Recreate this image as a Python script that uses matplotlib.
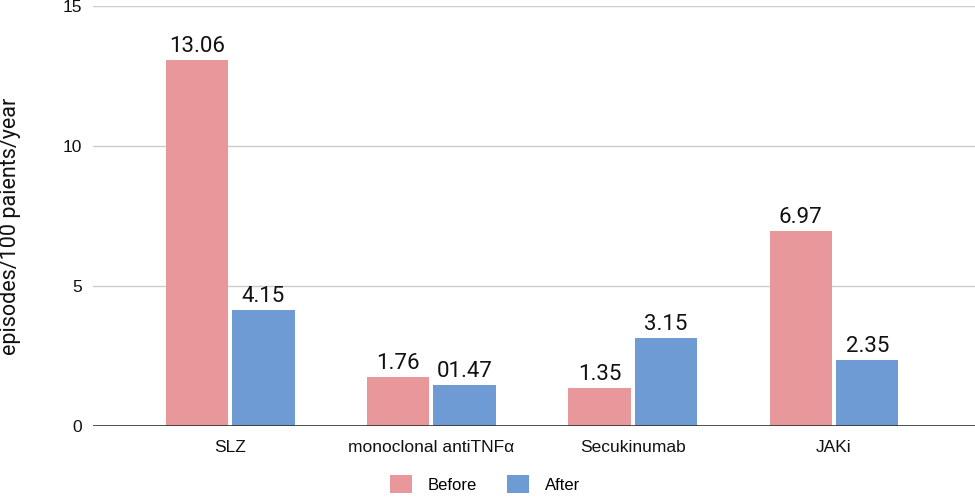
import matplotlib
matplotlib.use("Agg")
import matplotlib.pyplot as plt
import numpy as np

categories = ["SLZ", "monoclonal antiTNFα", "Secukinumab", "JAKi"]
before = [13.06, 1.76, 1.35, 6.97]
after = [4.15, 1.47, 3.15, 2.35]
before_labels = ["13.06", "1.76", "1.35", "6.97"]
after_labels = ["4.15", "01.47", "3.15", "2.35"]

pink = "#E8989A"
blue = "#6F9BD4"

fig = plt.figure(figsize=(9.75, 4.97), dpi=100)
ax = fig.add_axes([93/975, 1 - 426/497, 1 - 93/975, 420/497])

x = np.arange(len(categories))
w = 0.31
off = 0.165
b1 = ax.bar(x - off, before, w, color=pink, label="Before", zorder=3)
b2 = ax.bar(x + off, after, w, color=blue, label="After", zorder=3)

# value labels above bars
for bars, labs in [(b1, before_labels), (b2, after_labels)]:
    for r, t in zip(bars, labs):
        ax.text(r.get_x() + r.get_width()/2, r.get_height() + 0.29, t,
                ha="center", va="baseline", fontsize=16, family="Roboto", color="#111111")

ax.set_xlim(-0.681, 3.70)
ax.set_ylim(0, 15)
ax.set_yticks([0, 5, 10, 15])
ax.yaxis.grid(True, color="#cccccc", linewidth=1, zorder=0)
ax.axhline(0, color="#333333", linewidth=1.2, zorder=4)
for s in ax.spines.values():
    s.set_visible(False)
ax.tick_params(axis="both", length=0, labelsize=12.5, labelcolor="#111111")
ax.tick_params(axis="y", pad=8)
ax.tick_params(axis="x", pad=10)
ax.set_xticks(x)
ax.set_xticklabels(categories, family="Liberation Sans")
for t in ax.get_yticklabels():
    t.set_family("Liberation Sans")

# y axis title
fig.text(11/975, 1 - 226/497, "episodes/100 paients/year", rotation=90, ha="center", va="center",
         fontsize=15.5, family="Roboto", color="#111111")

fig.legend(loc="center", bbox_to_anchor=(485/975, 1 - 484/497), ncol=2, frameon=False,
           prop={"family": "Liberation Sans", "size": 12}, handlelength=1.32, handleheight=1.32,
           columnspacing=1.8, handletextpad=0.96)

fig.savefig("out.png", dpi=100)
